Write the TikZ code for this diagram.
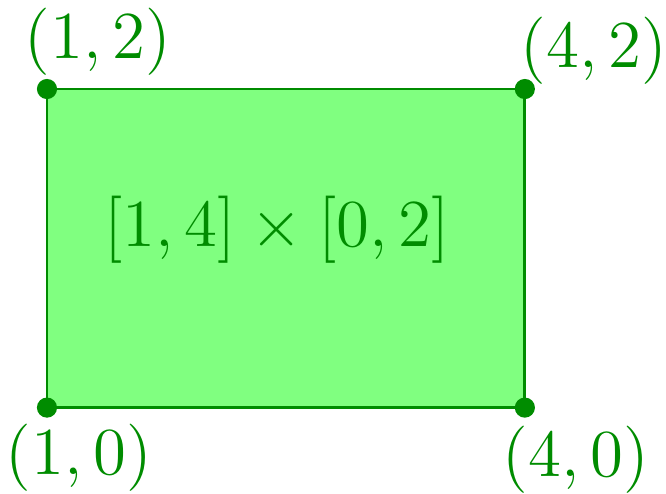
\documentclass[tikz,border=0pt]{standalone}
\usepackage{xcolor}
\usepackage{tikz}
\usetikzlibrary{positioning}
\definecolor{BoxGreen}{RGB}{128,255,128}
\definecolor{InkGreen}{RGB}{0,140,0}

\begin{document}
\begin{tikzpicture}[
  dot/.style={circle,fill=InkGreen,inner sep=0pt,minimum size=3.6pt},
  corner/.style={text=InkGreen,font=\large,inner sep=0pt},
  region/.style={fill=BoxGreen,draw=InkGreen,line width=0.5pt}
]
  \useasboundingbox (0.705,-0.542) rectangle (4.886,2.559);
  \coordinate (sw) at (1,0);
  \coordinate (ne) at (4,2);
  \filldraw[region] (sw) rectangle (ne);
  \node[dot] (p10) at (1,0) {};
  \node[dot] (p40) at (4,0) {};
  \node[dot] (p12) at (1,2) {};
  \node[dot] (p42) at (4,2) {};
  \node[corner] (l12) at (1.32,2.30) {$(1,2)$};
  \node[corner] (l42) at (4.434,2.239) {$(4,2)$};
  \node[corner] (l10) at (1.20,-0.316) {$(1,0)$};
  \node[corner] (l40) at (4.321,-0.329) {$(4,0)$};
  \node[corner] (set) at (2.444,1.115) {$[1,4]\times[0,2]$};
\end{tikzpicture}
\end{document}
